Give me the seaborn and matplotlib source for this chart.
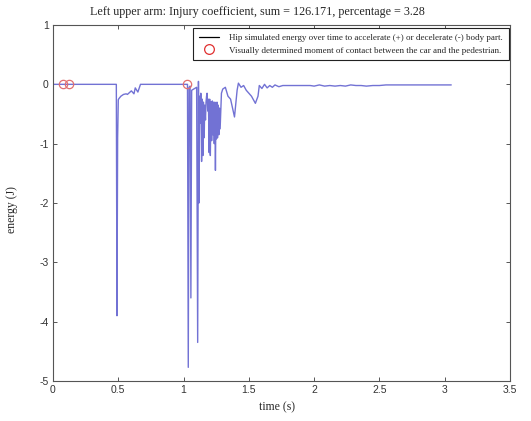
import matplotlib
matplotlib.use("Agg")
import matplotlib.pyplot as plt
from matplotlib.lines import Line2D
import seaborn as sns
import pandas as pd

# ---- data ----
time_s = [0.00, 0.485, 0.490, 0.495, 0.500, 0.505, 0.52, 0.54, 0.56, 0.57, 0.60, 0.62, 0.63, 0.65, 0.67,
          1.030, 1.036, 1.042, 1.050, 1.056, 1.062, 1.100, 1.108, 1.114, 1.118, 1.122, 1.128, 1.132,
          1.138, 1.143, 1.148, 1.152, 1.158, 1.162, 1.168, 1.172, 1.176, 1.180, 1.185, 1.190, 1.196,
          1.200, 1.205, 1.210, 1.215, 1.220, 1.225, 1.230, 1.235, 1.240, 1.244, 1.248, 1.252, 1.256,
          1.260, 1.265, 1.270, 1.275, 1.280, 1.29, 1.30, 1.32, 1.34, 1.36, 1.39, 1.41, 1.42, 1.44,
          1.46, 1.48, 1.50, 1.52, 1.55, 1.57, 1.58, 1.60, 1.62, 1.64, 1.66, 1.68, 1.70, 1.73, 1.76,
          1.80, 1.85, 1.90, 1.97, 2.00, 2.04, 2.08, 2.12, 2.16, 2.20, 2.24, 2.28, 2.32, 2.36, 2.40,
          2.45, 2.50, 2.55, 2.60, 3.05]
energy_j = [0.00, 0.00, -3.90, -0.90, -0.26, -0.24, -0.20, -0.17, -0.16, -0.17, -0.11, -0.16, -0.06, -0.13, 0.00,
            0.00, -4.77, -0.05, -0.03, -3.60, -0.10, -0.05, -4.35, 0.05, -2.00, -0.20, -0.65, -0.15,
            -1.30, -0.25, -1.20, -0.30, -0.90, -0.35, -0.60, -0.30, -0.20, -0.15, -0.45, -0.25, -1.15,
            -0.25, -1.20, -0.30, -0.95, -0.28, -0.85, -0.30, -1.00, -0.30, -1.45, -0.35, -0.92, -0.30,
            -0.90, -0.35, -0.85, -0.40, -0.75, -0.15, -0.08, -0.05, -0.20, -0.25, -0.55, -0.10, 0.02, -0.05,
            -0.02, -0.10, -0.15, -0.20, -0.32, -0.20, -0.02, -0.07, 0.00, -0.06, -0.02, -0.05, -0.01, -0.04, -0.02,
            -0.02, -0.02, -0.02, -0.02, -0.03, -0.01, -0.03, -0.02, -0.03, -0.02, -0.03, -0.01, -0.02, -0.02, -0.03,
            -0.02, -0.02, -0.01, -0.01, -0.01]
contact_time = [0.08, 0.125, 1.03]
contact_energy = [0.0, 0.0, 0.0]

title_text = "Left upper arm: Injury coefficient, sum = 126.171, percentage = 3.28"
legend_labels = ["Hip simulated energy over time to accelerate (+) or decelerate (-) body part.",
                 "Visually determined moment of contact between the car and the pedestrian."]
x_ticks = [0, 0.5, 1, 1.5, 2, 2.5, 3, 3.5]
x_tick_labels = ["0", "0.5", "1", "1.5", "2", "2.5", "3", "3.5"]
y_ticks = [-5, -4, -3, -2, -1, 0, 1]
y_tick_labels = ["-5", "-4", "-3", "-2", "-1", "0", "1"]

assert len(time_s) == len(energy_j), (len(time_s), len(energy_j))

sns.set_style("ticks")
plt.rcParams['font.family'] = ['Liberation Serif', 'DejaVu Serif']

line_df = pd.DataFrame({"time": time_s, "energy": energy_j})
pt_df = pd.DataFrame({"time": contact_time, "energy": contact_energy})

fig, ax = plt.subplots(figsize=(5.31, 4.21), dpi=100)
fig.subplots_adjust(left=53/531, right=510/531, bottom=1-381/421, top=1-25/421)

line_color = "#7272d4"
sns.lineplot(data=line_df, x="time", y="energy", sort=False, estimator=None,
             color=line_color, linewidth=1.0, ax=ax)
ax.plot(pt_df["time"], pt_df["energy"], linestyle="none", marker="o", markersize=6,
        markerfacecolor="none", markeredgecolor="#e07070", markeredgewidth=0.9)

ax.set_xlim(0, 3.5)
ax.set_ylim(-5, 1)
ax.set_xticks(x_ticks)
ax.set_xticklabels(x_tick_labels)
ax.set_yticks(y_ticks)
ax.set_yticklabels(y_tick_labels)
ax.tick_params(direction="in", top=True, right=True, length=3, width=0.7,
               colors="#555555", labelcolor="#333333", labelsize=7.5, pad=3)
for lab in ax.get_xticklabels() + ax.get_yticklabels():
    lab.set_family(["Liberation Sans", "DejaVu Sans"])
for sp in ax.spines.values():
    sp.set_visible(True)
    sp.set_color("#555555")
    sp.set_linewidth(0.8)

ax.set_xlabel("")
ax.set_ylabel("")
fig.text(277/531, 1-407/421, "time (s)", ha="center", va="center", fontsize=8.5)
fig.text(12/531, 1-210/421, "energy (J)", ha="center", va="center", rotation=90, fontsize=8.5)
fig.text(257/531, 1-12/421, title_text, ha="center", va="center", fontsize=8.7)

handles = [Line2D([0], [0], color="black", linewidth=0.9),
           Line2D([0], [0], linestyle="none", marker="o", markersize=7,
                  markerfacecolor="none", markeredgecolor="#e03030", markeredgewidth=0.9)]
leg = fig.legend(handles, legend_labels, loc="upper right",
                 bbox_to_anchor=(509/531, 1-28/421), fontsize=6.5, frameon=True,
                 fancybox=False, edgecolor="#222222", framealpha=1, borderpad=0.65,
                 handlelength=2.2, handletextpad=1.2, labelspacing=0.45, borderaxespad=0)
leg.get_frame().set_linewidth(0.8)

fig.savefig("out.png", dpi=100)
